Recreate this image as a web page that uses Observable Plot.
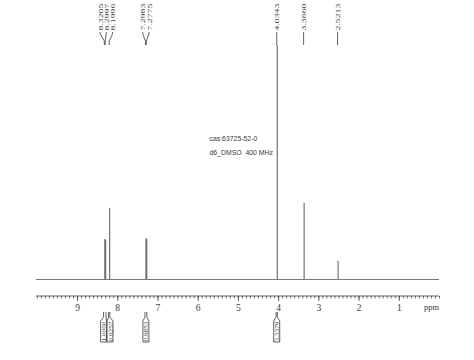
<!DOCTYPE html>
<html><head><meta charset="utf-8">
<script src="https://cdn.jsdelivr.net/npm/d3@7"></script>
<script src="https://cdn.jsdelivr.net/npm/@observablehq/plot@0.6"></script>
<style>body{margin:0;background:#fff}</style>
</head><body><div id="chart"></div>
<script>
// ---- data ----
const peakShifts  = [8.3205, 8.2997, 8.1996, 7.2983, 7.2775, 4.0343, 3.3660, 2.5213];
const peakHeights = [17.1, 16.6, 30.3, 17.5, 17.0, 100, 32.5, 7.8];
const peakLabels  = ["8.3205","8.2997","8.1996","7.2983","7.2775","4.0343","3.3660","2.5213"];
const peakGroups  = [0, 0, 0, 1, 1, 2, 3, 4];
const integralFrom   = [8.34, 8.215, 7.31, 4.05];
const integralTo     = [8.28, 8.185, 7.265, 4.02];
const integralLabels = ["1.0000", "0.9257", "0.9853", "3.3379"];
const majorTicks = [1, 2, 3, 4, 5, 6, 7, 8, 9];
const minorTicks = d3.range(0, 101).map(i => i / 10);
const axisLabel = "ppm";
const noteLines = ["cas:63725-52-0", "d6_DMSO  400 MHz"];

const peaks = peakShifts.map((s, i) => ({shift: s, h: peakHeights[i]}));
const ink = "#3a3a3a";

function annotations(index, scales, values, dim) {
  const x = scales.x;
  const g = d3.create("svg:g").attr("fill", "none").attr("stroke", ink).attr("stroke-width", 0.8);
  const axisY = dim.height - dim.marginBottom;
  // axis line
  g.append("line").attr("x1", x(10.02)).attr("x2", x(0)).attr("y1", axisY).attr("y2", axisY);
  g.append("text").attr("x", x(0)).attr("y", axisY + 14).attr("text-anchor", "end")
    .attr("fill", ink).attr("stroke", "none").attr("font-size", 8.5)
    .attr("font-family", "Liberation Serif").text(axisLabel);
  // peak labels with connectors
  const groups = d3.groups(d3.range(peakShifts.length), i => peakGroups[i]);
  for (const [, idx] of groups) {
    const px = idx.map(i => x(peakShifts[i]));
    const c = d3.mean(px);
    const n = idx.length;
    idx.forEach((i, k) => {
      const lx = c + (k - (n - 1) / 2) * 6.2;
      const tx = px[k];
      g.append("path").attr("d", `M${lx},32 V34 L${tx},41 V45`);
      g.append("text").attr("transform", `translate(${lx + 0.2},30.5) rotate(-90) scale(1.4,1)`)
        .attr("text-anchor", "start").attr("dominant-baseline", "central")
        .attr("fill", ink).attr("stroke", "none").attr("font-size", 7)
        .attr("font-family", "Liberation Serif").text(peakLabels[i]);
    });
  }
  // integrals
  const centers = integralFrom.map((f, i) => (x(f) + x(integralTo[i])) / 2);
  for (let i = 0; i < centers.length - 1; i++) {
    if (centers[i + 1] - centers[i] < 6.4) {
      const m = (centers[i] + centers[i + 1]) / 2;
      centers[i] = m - 3.4; centers[i + 1] = m + 3.0;
    }
  }
  integralLabels.forEach((lab, i) => {
    const x0 = x(integralFrom[i]), x1 = x(integralTo[i]), bc = centers[i];
    g.append("path").attr("d",
      `M${x0},312 V317 L${bc - 3},321 V342 H${bc + 3} V321 L${x1},317 V312`);
    g.append("text").attr("transform", `translate(${bc + 0.2},331.5) rotate(-90) scale(1.15,1)`)
      .attr("text-anchor", "middle").attr("dominant-baseline", "central")
      .attr("fill", ink).attr("stroke", "none").attr("font-size", 6.3)
      .attr("font-family", "Liberation Serif").text(lab);
  });
  return g.node();
}

const plot = Plot.plot({
  width: 474, height: 360,
  marginTop: 0, marginBottom: 64, marginLeft: 36, marginRight: 35,
  style: {background: "#fff", color: ink, fontFamily: "Liberation Serif"},
  x: {domain: [10.02, 0]},
  y: {domain: [0, 100], range: [279, 45], axis: null},
  marks: [
    Plot.ruleY([0], {stroke: "#777", strokeWidth: 1}),
    Plot.ruleX(peaks, {x: "shift", y1: 0, y2: "h", stroke: "#555", strokeWidth: 1}),
    Plot.axisX({ticks: minorTicks, tickSize: 2.5, tickFormat: () => "", label: null, stroke: ink, strokeWidth: 0.7}),
    Plot.axisX({ticks: majorTicks, tickSize: 5, tickPadding: 3, fontSize: 9.5, tickFormat: d => String(d), label: null, stroke: ink, strokeWidth: 0.8}),
    Plot.text([noteLines.join("\n")], {x: 5.72, y: 58.1, text: d => d, textAnchor: "start", lineAnchor: "middle", lineHeight: 2.0, fontSize: 6.9, fontFamily: "Liberation Sans", fill: ink}),
    annotations
  ]
});
document.getElementById("chart").append(plot);
</script>
</body></html>
